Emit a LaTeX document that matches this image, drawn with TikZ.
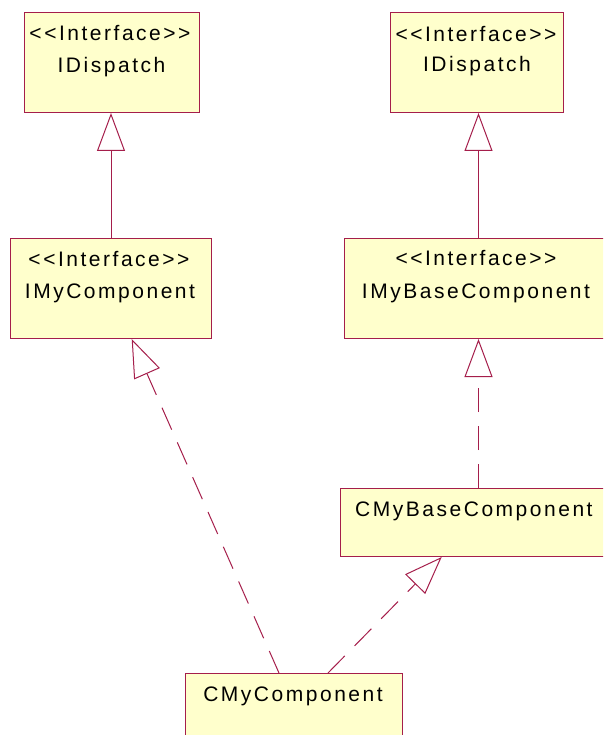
\documentclass[tikz,border=0pt]{standalone}
\usepackage{fontspec}
\setmainfont{Liberation Sans}[LetterSpace=12, Ligatures=TeXOff]
\usetikzlibrary{arrows.meta,calc}
\definecolor{umlborder}{HTML}{A51E4B}
\definecolor{umlfill}{HTML}{FFFFCC}
\begin{document}
\begin{tikzpicture}[x=1pt,y=-1pt,
  classbox/.style={draw=umlborder, fill=umlfill, line width=1pt, inner sep=0pt, anchor=north west},
  lbl/.style={anchor=base, inner sep=0pt, font=\fontsize{21}{25}\selectfont},
  gen/.style={draw=umlborder, line width=1pt, -{Triangle[open, length=38pt, width=28pt, fill=white]}},
  realize/.style={gen, dash pattern=on 24pt off 14pt}]
\useasboundingbox (0,0) rectangle (603,735);
\clip (0,0) rectangle (603,735);
% boxes
\node[classbox, minimum width=175pt, minimum height=100pt] (d1) at (24,12) {};
\node[classbox, minimum width=173pt, minimum height=100pt] (d2) at (390,12) {};
\node[classbox, minimum width=201pt, minimum height=100pt] (im) at (10,238) {};
\node[classbox, minimum width=268pt, minimum height=100pt] (ib) at (344,238) {};
\node[classbox, minimum width=276pt, minimum height=68pt] (cb) at (340,488) {};
\node[classbox, minimum width=217pt, minimum height=68pt] (cm) at (185,673) {};
% labels
\node[lbl] (d1s) at (110,41) {<<Interface>>};
\node[lbl] (d1n) at (111.5,73) {IDispatch};
\node[lbl] (d2s) at (476,41.5) {<<Interface>>};
\node[lbl] (d2n) at (477,72) {IDispatch};
\node[lbl] (ims) at (109,266) {<<Interface>>};
\node[lbl] (imn) at (110,298) {IMyComponent};
\node[lbl] (ibs) at (476,265) {<<Interface>>};
\node[lbl] (ibn) at (476,298) {IMyBaseComponent};
\node[lbl, anchor=base west] (cbn) at (355,516) {CMyBaseComponent};
\node[lbl] (cmn) at (293,701) {CMyComponent};
% coordinates
\coordinate (cmA) at ($(cm.north west)+(94,0)$);
\coordinate (cmB) at ($(cm.north west)+(143,0)$);
\coordinate (imT) at ($(im.south west)+(121.7,0)$);
\coordinate (cbT) at ($(cb.south west)+(101.7,0)$);
% connectors
\draw[gen] (im.north) -- (im.north |- d1.south);
\draw[gen] (ib.north) -- (ib.north |- d2.south);
\draw[realize] (cb.north) -- (cb.north |- ib.south);
\draw[realize] (cmA) -- (imT);
\draw[realize] (cmB) -- (cbT);
\end{tikzpicture}
\end{document}
